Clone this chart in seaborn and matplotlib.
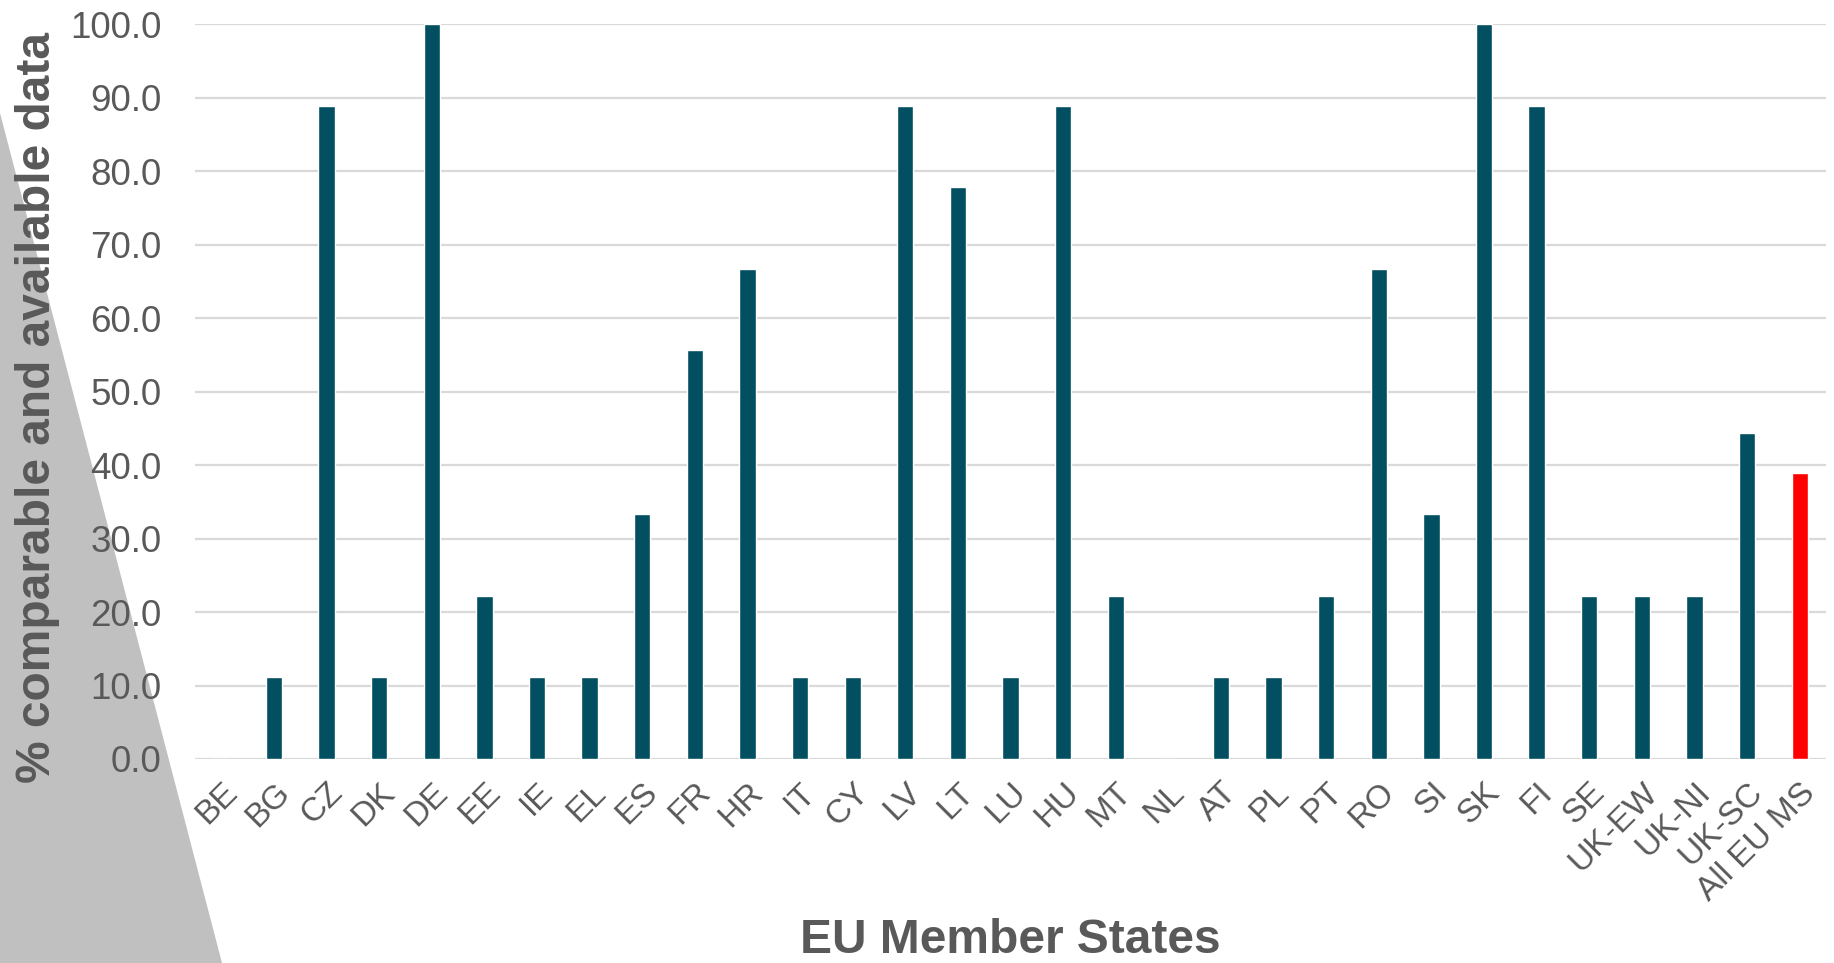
import matplotlib
matplotlib.use('Agg')
import matplotlib.pyplot as plt
import pandas as pd
import seaborn as sns

sns.set_style(style='white')
plt.rcParams['font.family'] = ['Liberation Sans', 'DejaVu Sans']

states = ['BE', 'BG', 'CZ', 'DK', 'DE', 'EE', 'IE', 'EL', 'ES', 'FR', 'HR',
          'IT', 'CY', 'LV', 'LT', 'LU', 'HU', 'MT', 'NL', 'AT', 'PL', 'PT',
          'RO', 'SI', 'SK', 'FI', 'SE', 'UK-EW', 'UK-NI', 'UK-SC', 'All EU MS']
pct = [0.0, 11.1, 88.9, 11.1, 100.0, 22.2, 11.1, 11.1, 33.3, 55.6, 66.7,
       11.1, 11.1, 88.9, 77.8, 11.1, 88.9, 22.2, 0.0, 11.1, 11.1, 22.2,
       66.7, 33.3, 100.0, 88.9, 22.2, 22.2, 22.2, 44.4, 38.9]

teal = '#024f61'
red = '#ff0000'
grey_text = '#595959'
palette = {s: (red if s == 'All EU MS' else teal) for s in states}

df = pd.DataFrame({'state': states, 'pct': pct})

fig = plt.figure(figsize=(18.34, 9.63), dpi=100)

# grey wedge in the lower-left corner of the slide
wedge = plt.Polygon([(0, 1 - 113 / 963), (222 / 1834, 0), (0, 0)],
                    closed=True, transform=fig.transFigure,
                    facecolor='#c0c0c0', edgecolor='none', zorder=-5)
fig.patches.append(wedge)

ax = fig.add_axes([195 / 1834, 1 - 759 / 963, (1826 - 195) / 1834, 735 / 963])
ax.set_facecolor('none')

sns.barplot(data=df, x='state', y='pct', hue='state', palette=palette,
            width=0.31, legend=False, saturation=1, ax=ax, zorder=3)

ax.set_ylim(0, 100)
ax.set_xlim(-0.5, len(states) - 0.5)
ax.set_yticks(range(0, 101, 10))
ax.set_yticklabels([f'{v:.1f}' for v in range(0, 101, 10)])
ax.yaxis.grid(True, color='#d9d9d9', linewidth=1.6, zorder=0)
ax.set_axisbelow(True)
for s in ax.spines.values():
    s.set_visible(False)

ax.tick_params(axis='both', length=0, labelcolor=grey_text)
ax.tick_params(axis='y', pad=24, labelsize=26.5)
ax.tick_params(axis='x', pad=13, labelsize=24)
for lab in ax.get_xticklabels():
    lab.set_rotation(45)
    lab.set_ha('right')
    lab.set_va('top')
    lab.set_rotation_mode('anchor')

ax.set_xlabel('EU Member States', fontsize=34.5, fontweight='bold', color=grey_text)
ax.xaxis.set_label_coords(0.5, -0.216)
ax.set_ylabel('% comparable and available data', fontsize=34.5, fontweight='bold',
              color=grey_text)
ax.yaxis.set_label_coords(-0.083, 0.478)

fig.savefig('out.png', dpi=100)
